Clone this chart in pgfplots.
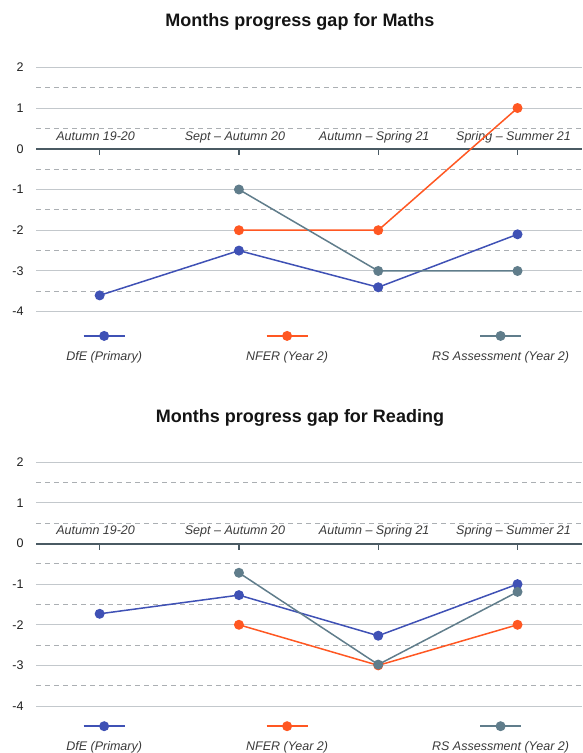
\documentclass[border=0pt]{standalone}
\usepackage{pgfplots}
\pgfplotsset{compat=1.18}
\usepackage{fontspec}
\setmainfont{Liberation Sans}
\definecolor{dfe}{HTML}{3F51B5}
\definecolor{nfer}{HTML}{FF5722}
\definecolor{rsa}{HTML}{607D8B}
\definecolor{gridsolid}{HTML}{C3C8CC}
\definecolor{griddash}{HTML}{ABAFB3}
\definecolor{zeroline}{HTML}{4A5A63}
\definecolor{labtext}{HTML}{3A3A3A}
\newcommand\legfont{\fontsize{12.5}{15}\selectfont\itshape}
\newlength\wA \newlength\wB \newlength\wC
\AtBeginDocument{%
\settowidth\wA{\legfont DfE (Primary)}%
\settowidth\wB{\legfont NFER (Year 2)}%
\settowidth\wC{\legfont RS Assessment (Year 2)}%
\pgfmathsetlengthmacro\xA{0.5*\wA+2pt}%
\pgfmathsetlengthmacro\xB{0.5*\wB+2pt}%
\pgfmathsetlengthmacro\xC{0.5*\wC+2pt}%
}
\pgfplotsset{
  legA/.style={legend image code/.code={\draw[overlay,mark repeat=2,mark phase=2,##1,line width=2pt] plot coordinates {(\xA-20.5pt,20.5pt) (\xA,20.5pt) (\xA+20.5pt,20.5pt)};}},
  legB/.style={legend image code/.code={\draw[overlay,mark repeat=2,mark phase=2,##1,line width=2pt] plot coordinates {(\xB-20.5pt,20.5pt) (\xB,20.5pt) (\xB+20.5pt,20.5pt)};}},
  legC/.style={legend image code/.code={\draw[overlay,mark repeat=2,mark phase=2,##1,line width=2pt] plot coordinates {(\xC-20.5pt,20.5pt) (\xC,20.5pt) (\xC+20.5pt,20.5pt)};}},
  ser/.style={color=#1, line width=1.5pt, mark=*, mark size=4.2pt, mark options={solid, fill=#1, draw=#1, line width=1.5pt}},
  panel/.style={
    scale only axis, width=546pt,
    xmin=-0.457, xmax=3.463, ymin=-4, ymax=2,
    clip=false,
    axis x line=middle, axis y line=left,
    x axis line style={draw=zeroline, line width=2pt, -},
    y axis line style={draw=none},
    xtick={0,1,2,3},
    xticklabels={Autumn 19-20, Sept – Autumn 20, Autumn – Spring 21, Spring – Summer 21},
    xtick align=outside,
    major tick length=6pt,
    minor tick length=0pt,
    x tick style={draw=zeroline, line width=1.4pt},
    y tick style={draw=none},
    ytick={-4,-3,-2,-1,0,1,2},
    yticklabels={-4,-3,-2,-1,0,1,2},
    minor ytick={-3.5,-2.5,-1.5,-0.5,0.5,1.5},
    ymajorgrids, yminorgrids,
    major grid style={solid, draw=gridsolid, line width=1pt},
    minor grid style={draw=griddash, line width=0.9pt, dash pattern=on 5pt off 4pt},
    yticklabel style={font=\fontsize{12.5}{15}\selectfont, text=black!88, xshift=-6pt},
    xticklabel style={font=\legfont, text=labtext, anchor=base, yshift=14.7pt, xshift=-4pt},
    title style={font=\bfseries\fontsize{18}{21}\selectfont, text=black!92, at={(0.5,1)}, anchor=base, yshift=34.3pt, xshift=-9pt},
    legend style={draw=none, fill=none, anchor=west,
      font=\legfont, text=labtext,
      /tikz/every even column/.append style={column sep=100.1pt}},
    legend columns=3,
  }
}
\begin{document}
\begin{tikzpicture}[x=1pt,y=1pt]
\useasboundingbox (0,0) rectangle (582,753);
\begin{axis}[panel, at={(36pt,441.3pt)}, anchor=south west, height=244.4pt,
  title={Months progress gap for Maths},
  legend style={at={(0.046,-0.183)}}]
\addplot[ser=dfe, legA] coordinates {(0,-3.6) (1,-2.5) (2,-3.4) (3,-2.1)};
\addlegendentry{DfE (Primary)}
\addplot[ser=nfer, legB] coordinates {(1,-2) (2,-2) (3,1)};
\addlegendentry{NFER (Year 2)}
\addplot[ser=rsa, legC] coordinates {(1,-1) (2,-3) (3,-3)};
\addlegendentry{RS Assessment (Year 2)}
\end{axis}
\begin{axis}[panel, at={(36pt,47pt)}, anchor=south west, height=243.7pt,
  title={Months progress gap for Reading},
  legend style={at={(0.046,-0.167)}}]
\addplot[ser=dfe, legA] coordinates {(0,-1.73) (1,-1.27) (2,-2.27) (3,-1.0)};
\addlegendentry{DfE (Primary)}
\addplot[ser=nfer, legB] coordinates {(1,-2) (2,-3) (3,-2)};
\addlegendentry{NFER (Year 2)}
\addplot[ser=rsa, legC] coordinates {(1,-0.72) (2,-2.98) (3,-1.19)};
\addlegendentry{RS Assessment (Year 2)}
\end{axis}
\end{tikzpicture}
\end{document}
